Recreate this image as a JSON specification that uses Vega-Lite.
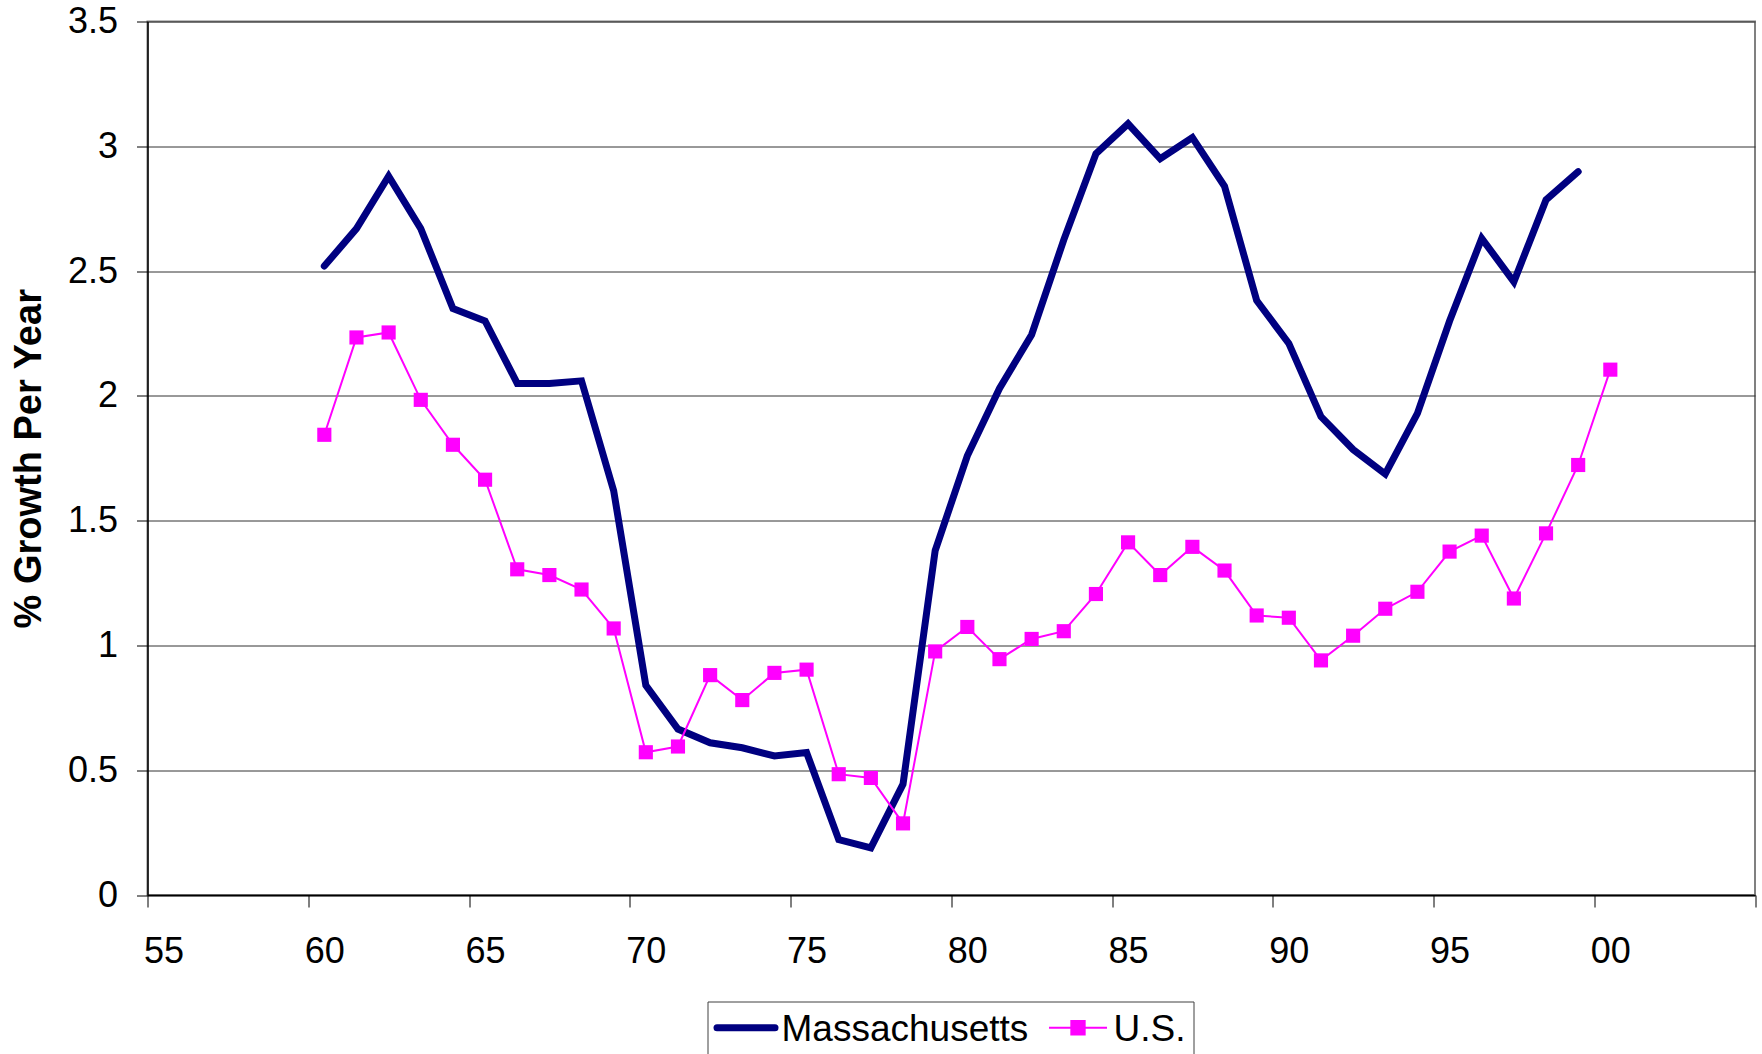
{
  "$schema": "https://vega.github.io/schema/vega-lite/v6.json",
  "width": 1607.5,
  "height": 873.5,
  "autosize": {"type": "none"},
  "padding": {"left": 147.5, "top": 21.5, "right": 7, "bottom": 159},
  "background": "white",
  "config": {
    "view": {"stroke": "#808080", "strokeWidth": 2},
    "font": "Liberation Sans"
  },
  "data": {
    "values": [
      {"year": 1960, "series": "Massachusetts", "value": 2.52},
      {"year": 1961, "series": "Massachusetts", "value": 2.67},
      {"year": 1962, "series": "Massachusetts", "value": 2.88},
      {"year": 1963, "series": "Massachusetts", "value": 2.67},
      {"year": 1964, "series": "Massachusetts", "value": 2.35},
      {"year": 1965, "series": "Massachusetts", "value": 2.30},
      {"year": 1966, "series": "Massachusetts", "value": 2.05},
      {"year": 1967, "series": "Massachusetts", "value": 2.05},
      {"year": 1968, "series": "Massachusetts", "value": 2.06},
      {"year": 1969, "series": "Massachusetts", "value": 1.62},
      {"year": 1970, "series": "Massachusetts", "value": 0.84},
      {"year": 1971, "series": "Massachusetts", "value": 0.665},
      {"year": 1972, "series": "Massachusetts", "value": 0.61},
      {"year": 1973, "series": "Massachusetts", "value": 0.59},
      {"year": 1974, "series": "Massachusetts", "value": 0.557},
      {"year": 1975, "series": "Massachusetts", "value": 0.571},
      {"year": 1976, "series": "Massachusetts", "value": 0.222},
      {"year": 1977, "series": "Massachusetts", "value": 0.189},
      {"year": 1978, "series": "Massachusetts", "value": 0.444},
      {"year": 1979, "series": "Massachusetts", "value": 1.38},
      {"year": 1980, "series": "Massachusetts", "value": 1.76},
      {"year": 1981, "series": "Massachusetts", "value": 2.03},
      {"year": 1982, "series": "Massachusetts", "value": 2.245},
      {"year": 1983, "series": "Massachusetts", "value": 2.625},
      {"year": 1984, "series": "Massachusetts", "value": 2.97},
      {"year": 1985, "series": "Massachusetts", "value": 3.09},
      {"year": 1986, "series": "Massachusetts", "value": 2.95},
      {"year": 1987, "series": "Massachusetts", "value": 3.035},
      {"year": 1988, "series": "Massachusetts", "value": 2.84},
      {"year": 1989, "series": "Massachusetts", "value": 2.382},
      {"year": 1990, "series": "Massachusetts", "value": 2.21},
      {"year": 1991, "series": "Massachusetts", "value": 1.917},
      {"year": 1992, "series": "Massachusetts", "value": 1.785},
      {"year": 1993, "series": "Massachusetts", "value": 1.687},
      {"year": 1994, "series": "Massachusetts", "value": 1.93},
      {"year": 1995, "series": "Massachusetts", "value": 2.30},
      {"year": 1996, "series": "Massachusetts", "value": 2.631},
      {"year": 1997, "series": "Massachusetts", "value": 2.457},
      {"year": 1998, "series": "Massachusetts", "value": 2.785},
      {"year": 1999, "series": "Massachusetts", "value": 2.898},
      {"year": 1960, "series": "U.S.", "value": 1.844},
      {"year": 1961, "series": "U.S.", "value": 2.234},
      {"year": 1962, "series": "U.S.", "value": 2.254},
      {"year": 1963, "series": "U.S.", "value": 1.984},
      {"year": 1964, "series": "U.S.", "value": 1.804},
      {"year": 1965, "series": "U.S.", "value": 1.664},
      {"year": 1966, "series": "U.S.", "value": 1.305},
      {"year": 1967, "series": "U.S.", "value": 1.282},
      {"year": 1968, "series": "U.S.", "value": 1.224},
      {"year": 1969, "series": "U.S.", "value": 1.068},
      {"year": 1970, "series": "U.S.", "value": 0.572},
      {"year": 1971, "series": "U.S.", "value": 0.595},
      {"year": 1972, "series": "U.S.", "value": 0.881},
      {"year": 1973, "series": "U.S.", "value": 0.781},
      {"year": 1974, "series": "U.S.", "value": 0.89},
      {"year": 1975, "series": "U.S.", "value": 0.903},
      {"year": 1976, "series": "U.S.", "value": 0.484},
      {"year": 1977, "series": "U.S.", "value": 0.469},
      {"year": 1978, "series": "U.S.", "value": 0.287},
      {"year": 1979, "series": "U.S.", "value": 0.976},
      {"year": 1980, "series": "U.S.", "value": 1.074},
      {"year": 1981, "series": "U.S.", "value": 0.945},
      {"year": 1982, "series": "U.S.", "value": 1.026},
      {"year": 1983, "series": "U.S.", "value": 1.057},
      {"year": 1984, "series": "U.S.", "value": 1.206},
      {"year": 1985, "series": "U.S.", "value": 1.413},
      {"year": 1986, "series": "U.S.", "value": 1.282},
      {"year": 1987, "series": "U.S.", "value": 1.395},
      {"year": 1988, "series": "U.S.", "value": 1.30},
      {"year": 1989, "series": "U.S.", "value": 1.12},
      {"year": 1990, "series": "U.S.", "value": 1.111},
      {"year": 1991, "series": "U.S.", "value": 0.94},
      {"year": 1992, "series": "U.S.", "value": 1.039},
      {"year": 1993, "series": "U.S.", "value": 1.147},
      {"year": 1994, "series": "U.S.", "value": 1.215},
      {"year": 1995, "series": "U.S.", "value": 1.376},
      {"year": 1996, "series": "U.S.", "value": 1.44},
      {"year": 1997, "series": "U.S.", "value": 1.188},
      {"year": 1998, "series": "U.S.", "value": 1.449},
      {"year": 1999, "series": "U.S.", "value": 1.723},
      {"year": 2000, "series": "U.S.", "value": 2.105}
    ]
  },
  "encoding": {
    "x": {
      "field": "year",
      "type": "quantitative",
      "scale": {"domain": [1954.5, 2004.5], "nice": false, "zero": false},
      "axis": {
        "title": null,
        "grid": false,
        "values": [1954.5, 1959.5, 1964.5, 1969.5, 1974.5, 1979.5, 1984.5, 1989.5, 1994.5, 1999.5, 2004.5],
        "labelExpr": "datum.value > 2003 ? '' : format((datum.value + 0.5) % 100, '02d')",
        "labelOffset": 16,
        "labelFont": "Liberation Sans",
        "labelFontSize": 36,
        "labelColor": "black",
        "labelPadding": 27,
        "labelFlush": false,
        "labelOverlap": false,
        "tickSize": 12,
        "tickColor": "black",
        "tickWidth": 1,
        "domainColor": "black",
        "domainWidth": 1.5
      }
    },
    "y": {
      "field": "value",
      "type": "quantitative",
      "scale": {"domain": [0, 3.5], "nice": false, "zero": true},
      "axis": {
        "title": "% Growth Per Year",
        "titleFont": "Liberation Sans",
        "titleFontSize": 38,
        "titleFontWeight": "bold",
        "titleColor": "black",
        "titlePadding": 19,
        "values": [0, 0.5, 1, 1.5, 2, 2.5, 3, 3.5],
        "format": ".2~f",
        "grid": true,
        "gridColor": "#333333",
        "gridWidth": 1,
        "labelFont": "Liberation Sans",
        "labelFontSize": 36,
        "labelColor": "black",
        "labelPadding": 19,
        "labelFlush": false,
        "labelOverlap": false,
        "tickSize": 11,
        "tickColor": "black",
        "tickWidth": 1,
        "domainColor": "black",
        "domainWidth": 1.5
      }
    }
  },
  "layer": [
    {
      "transform": [{"filter": "datum.series === 'Massachusetts'"}],
      "mark": {"type": "line", "strokeWidth": 7, "strokeCap": "round", "strokeJoin": "miter"},
      "encoding": {
        "color": {
          "field": "series",
          "type": "nominal",
          "scale": {"domain": ["Massachusetts", "U.S."], "range": ["#000080", "#FF00FF"]},
          "legend": {
            "orient": "none",
            "legendX": 560,
            "legendY": 980,
            "direction": "horizontal",
            "title": null,
            "strokeColor": "#404040",
            "padding": 7.5,
            "labelFont": "Liberation Sans",
            "labelFontSize": 37,
            "labelColor": "black",
            "labelLimit": 500,
            "symbolSize": 841,
            "symbolOffset": 12.5,
            "labelOffset": 17,
            "columnPadding": 16,
            "symbolType": "M-2,0H2",
            "encode": {
              "labels": {"update": {"dy": {"value": 2}}},
              "symbols": {
                "update": {
                  "shape": {"signal": "datum.value === 'U.S.' ? 'M-2,0H2M-0.46,-0.46H0.46V0.46H-0.46Z' : 'M-2,0H2'"},
                  "strokeWidth": {"signal": "datum.value === 'U.S.' ? 2 : 7"},
                  "fill": {"signal": "datum.value === 'U.S.' ? '#FF00FF' : '#000080'"},
                  "stroke": {"signal": "datum.value === 'U.S.' ? '#FF00FF' : '#000080'"},
                  "strokeCap": {"signal": "datum.value === 'U.S.' ? 'butt' : 'round'"},
                  "opacity": {"value": 1}
                }
              }
            }
          }
        }
      }
    },
    {
      "transform": [{"filter": "datum.series === 'U.S.'"}],
      "mark": {"type": "line", "strokeWidth": 2},
      "encoding": {
        "color": {"field": "series", "type": "nominal"}
      }
    },
    {
      "transform": [{"filter": "datum.series === 'U.S.'"}],
      "mark": {"type": "square", "filled": true, "size": 200, "color": "#FF00FF", "opacity": 1}
    }
  ]
}
